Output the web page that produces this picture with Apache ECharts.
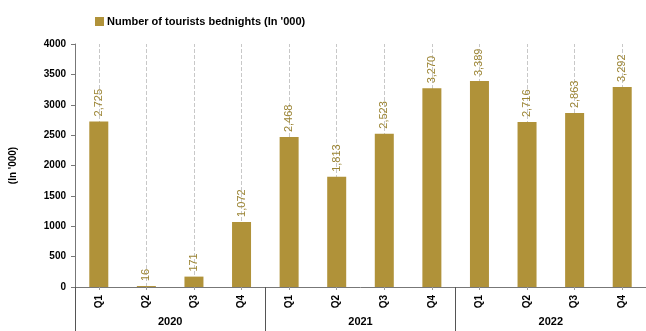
<!DOCTYPE html>
<html>
<head>
<meta charset="utf-8">
<script src="https://cdn.jsdelivr.net/npm/echarts@6/dist/echarts.min.js"></script>
<style>html,body{margin:0;padding:0;background:#fff}#c{width:646px;height:331px}</style>
</head>
<body>
<div id="c"></div>
<script>
const quarters = ['Q1','Q2','Q3','Q4','Q1','Q2','Q3','Q4','Q1','Q2','Q3','Q4'];
const years = ['2020','2021','2022'];
const bednights = [2725, 16, 171, 1072, 2468, 1813, 2523, 3270, 3389, 2716, 2863, 3292];
const seriesName = "Number of tourists bednights (In '000)";
const yAxisName = "(In '000)";

const font = "'Liberation Sans', Arial, sans-serif";
const chart = echarts.init(document.getElementById('c'));
chart.setOption({
  animation: false,
  textStyle: { fontFamily: font },
  legend: {
    left: 90, top: 11,
    itemWidth: 9, itemHeight: 9, itemGap: 4,
    icon: 'rect',
    textStyle: { fontSize: 11, fontWeight: 'bold', color: '#000', fontFamily: font, padding: [0, 0, 0, -2] },
    data: [seriesName]
  },
  grid: { left: 75, top: 44, width: 573, height: 243, containLabel: false },
  xAxis: [
    {
      type: 'category', data: quarters, position: 'bottom',
      axisLine: { show: true, lineStyle: { color: '#777', width: 1 } },
      axisTick: { show: true, alignWithLabel: true, length: 3, lineStyle: { color: '#999' } },
      axisLabel: { rotate: 90, margin: 8, fontSize: 10, fontWeight: 'bold', color: '#000', fontFamily: font },
      splitLine: { show: false }
    },
    {
      type: 'category', data: years, position: 'bottom',
      axisLine: { show: false },
      axisTick: { show: true, interval: 0, length: 46, lineStyle: { color: '#555', width: 1 } },
      axisLabel: { margin: 29, fontSize: 11, fontWeight: 'bold', color: '#000', fontFamily: font },
      splitLine: { show: false }
    }
  ],
  yAxis: {
    type: 'value', min: 0, max: 4000, interval: 500,
    name: yAxisName, nameLocation: 'middle', nameGap: 57, nameRotate: 90,
    nameTextStyle: { fontSize: 10, fontWeight: 'bold', color: '#000', fontFamily: font },
    axisLine: { show: true, lineStyle: { color: '#777' } },
    axisTick: { show: true, length: 4, lineStyle: { color: '#777' } },
    axisLabel: { margin: 9, fontSize: 10, fontWeight: 'bold', color: '#000', fontFamily: font,
      formatter: v => String(v) },
    splitLine: { show: false }
  },
  series: [{
    name: seriesName,
    type: 'bar',
    xAxisIndex: 0,
    data: bednights,
    barWidth: 19,
    itemStyle: { color: '#B09239' },
    label: {
      show: true, position: 'top', rotate: 90, align: 'left', verticalAlign: 'middle',
      distance: 5, fontSize: 11, color: '#9C8535', fontFamily: font,
      formatter: p => p.value.toLocaleString('en-US')
    },
    markLine: {
      silent: true, symbol: 'none', z: 1,
      label: { show: false },
      lineStyle: { type: 'dashed', color: '#c8c8c8', width: 1 },
      data: quarters.map((q, i) => ({ xAxis: i }))
    }
  }]
});
</script>
</body>
</html>
